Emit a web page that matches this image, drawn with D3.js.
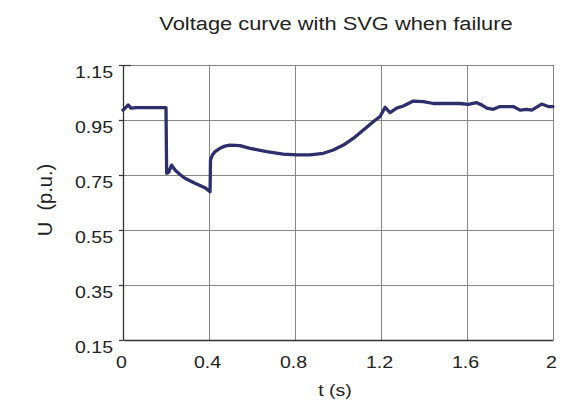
<!DOCTYPE html>
<html>
<head>
<meta charset="utf-8">
<script src="https://cdn.jsdelivr.net/npm/d3@7/dist/d3.min.js"></script>
<style>
  html, body { margin: 0; padding: 0; background: #fff; }
  svg { display: block; }
  text { font-family: "Liberation Sans", Arial, sans-serif; fill: #222; }
</style>
</head>
<body>
<script>
// Time samples (s) of the bus voltage trace
const timeS = [0, 0.012, 0.024, 0.037, 0.06, 0.1, 0.15, 0.2, 0.203, 0.212, 0.226, 0.242,
  0.265, 0.288, 0.335, 0.381, 0.405, 0.407, 0.415, 0.428, 0.451, 0.474, 0.498, 0.544,
  0.591, 0.668, 0.745, 0.807, 0.870, 0.932, 0.978, 1.025, 1.071, 1.118, 1.164, 1.195,
  1.219, 1.242, 1.273, 1.304, 1.35, 1.397, 1.443, 1.505, 1.567, 1.606, 1.645, 1.668,
  1.692, 1.722, 1.753, 1.815, 1.847, 1.878, 1.901, 1.947, 1.978, 2.0];
// Voltage (p.u.) at each time sample
const voltagePU = [0.986, 0.995, 1.005, 0.993, 0.995, 0.995, 0.995, 0.995, 0.756, 0.760,
  0.786, 0.768, 0.752, 0.738, 0.720, 0.704, 0.689, 0.805, 0.822, 0.835, 0.847, 0.855,
  0.859, 0.857, 0.847, 0.835, 0.826, 0.823, 0.823, 0.829, 0.841, 0.859, 0.883, 0.914,
  0.944, 0.962, 0.996, 0.977, 0.993, 1.001, 1.019, 1.017, 1.010, 1.010, 1.010, 1.007,
  1.013, 1.005, 0.993, 0.989, 0.999, 0.999, 0.986, 0.989, 0.986, 1.008, 0.999, 0.999];

const xTicks = [0, 0.4, 0.8, 1.2, 1.6, 2];
const xTickLabels = ["0", "0.4", "0.8", "1.2", "1.6", "2"];
const yTicks = [0.15, 0.35, 0.55, 0.75, 0.95, 1.15];
const yTickLabels = ["0.15", "0.35", "0.55", "0.75", "0.95", "1.15"];

const titleText = "Voltage curve with SVG when failure";
const xLabel = "t (s)";
const yLabel = "U  (p.u.)";

const W = 585, H = 408;
const plot = { left: 123, right: 553, top: 65, bottom: 340 };
const stretch = 1.15;

const x = d3.scaleLinear().domain([0, 2]).range([plot.left, plot.right]);
const y = d3.scaleLinear().domain([0.15, 1.15]).range([plot.bottom, plot.top]);

const svg = d3.select("body").append("svg").attr("width", W).attr("height", H);

// grid
const grid = svg.append("g").attr("stroke", "#868686").attr("stroke-width", 1);
grid.selectAll("line.v").data(xTicks.slice(1)).join("line")
  .attr("x1", d => Math.round(x(d)) + 0.5).attr("x2", d => Math.round(x(d)) + 0.5)
  .attr("y1", plot.top).attr("y2", plot.bottom);
grid.selectAll("line.h").data(yTicks.slice(1)).join("line")
  .attr("y1", d => Math.round(y(d)) + 0.5).attr("y2", d => Math.round(y(d)) + 0.5)
  .attr("x1", plot.left).attr("x2", plot.right);

// axes
const yAxis = d3.axisLeft(y).tickValues(yTicks)
  .tickFormat((d, i) => yTickLabels[i]).tickSize(4).tickSizeOuter(0);
const gy = svg.append("g").attr("transform", `translate(${plot.left},0)`).call(yAxis);
gy.select(".domain").attr("stroke", "#333").attr("stroke-width", 1.3);
gy.selectAll(".tick line").attr("stroke", "#333").attr("stroke-width", 1.2);
gy.selectAll(".tick text")
  .attr("x", null).attr("dy", null)
  .attr("text-anchor", "end")
  .attr("transform", `translate(-10,12) scale(${stretch},1)`)
  .style("font-size", "17px").style("font-family", "Liberation Sans, Arial, sans-serif")
  .attr("fill", "#222");

const xAxis = d3.axisBottom(x).tickValues(xTicks)
  .tickFormat((d, i) => xTickLabels[i]).tickSize(0).tickSizeOuter(0);
const gx = svg.append("g").attr("transform", `translate(0,${plot.bottom})`).call(xAxis);
gx.select(".domain").attr("stroke", "#333").attr("stroke-width", 1.3);
gx.selectAll(".tick text")
  .attr("y", null).attr("dy", null)
  .attr("text-anchor", "middle")
  .attr("transform", `translate(-2,28) scale(${stretch},1)`)
  .style("font-size", "17px").style("font-family", "Liberation Sans, Arial, sans-serif")
  .attr("fill", "#222");

// top frame edge
svg.append("line").attr("x1", plot.left).attr("x2", plot.left + 8)
  .attr("y1", plot.top + 0.5).attr("y2", plot.top + 0.5)
  .attr("stroke", "#333").attr("stroke-width", 1.2);

// voltage trace
const pts = timeS.map((t, i) => [t, voltagePU[i]]);
const line = d3.line().x(d => x(d[0])).y(d => y(d[1]));
svg.append("path").datum(pts).attr("d", line)
  .attr("fill", "none").attr("stroke", "#2c2f6b").attr("stroke-width", 3.3)
  .attr("stroke-linejoin", "round").attr("stroke-linecap", "round");

// title and axis labels
svg.append("text").attr("transform", `translate(336,30) scale(${stretch},1)`)
  .attr("text-anchor", "middle").style("font-size", "19px").text(titleText);
svg.append("text").attr("transform", `translate(335,396) scale(${stretch},1)`)
  .attr("text-anchor", "middle").style("font-size", "17px").text(xLabel);
svg.append("text").attr("transform", "translate(52,200) rotate(-90)")
  .attr("text-anchor", "middle").style("font-size", "20px")
  .style("white-space", "pre").text(yLabel);
</script>
</body>
</html>
